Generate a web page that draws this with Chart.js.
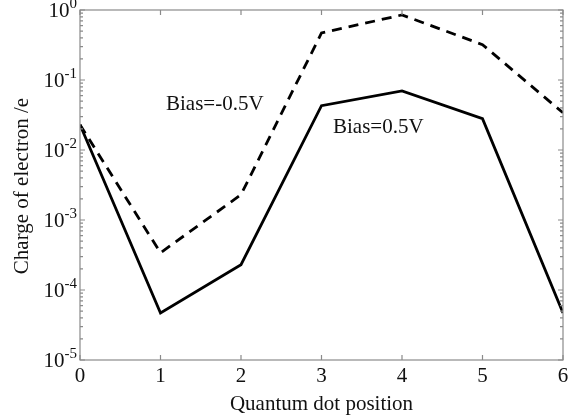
<!DOCTYPE html>
<html><head><meta charset="utf-8">
<script src="https://cdn.jsdelivr.net/npm/chart.js@4.4.1/dist/chart.umd.min.js"></script>
<style>html,body{margin:0;padding:0;background:#fff}#wrap{width:568px;height:417px}</style>
</head><body><div id="wrap"><canvas id="c" width="568" height="417"></canvas></div>
<script>
const categories = [0, 1, 2, 3, 4, 5, 6];
const biasPos = [0.023, 4.7e-5, 2.3e-4, 0.043, 0.07, 0.028, 4.7e-5];
const biasNeg = [0.023, 3.4e-4, 2.3e-3, 0.47, 0.85, 0.32, 0.034];
const yTickExponents = [0, -1, -2, -3, -4, -5];
const xTickLabels = ['0', '1', '2', '3', '4', '5', '6'];
const seriesNames = ['Bias=0.5V', 'Bias=-0.5V'];
const xTitle = 'Quantum dot position';
const yTitle = 'Charge of electron /e';

const FONT = '"Liberation Serif", "Times New Roman", serif';
const AXC = '#8a8a8a';

const deco = {
  id: 'deco',
  afterDatasetsDraw(chart) {
    const ctx = chart.ctx, a = chart.chartArea;
    const xs = chart.scales.x, ys = chart.scales.y;
    ctx.save();
    ctx.strokeStyle = AXC; ctx.lineWidth = 1.2;
    ctx.strokeRect(a.left, a.top, a.right - a.left, a.bottom - a.top);
    ctx.beginPath();
    categories.forEach(v => {
      const px = xs.getPixelForValue(v);
      ctx.moveTo(px, a.bottom); ctx.lineTo(px, a.bottom - 5);
      ctx.moveTo(px, a.top); ctx.lineTo(px, a.top + 5);
    });
    yTickExponents.forEach(e => {
      const py = ys.getPixelForValue(Math.pow(10, e));
      ctx.moveTo(a.left, py); ctx.lineTo(a.left + 5, py);
      ctx.moveTo(a.right, py); ctx.lineTo(a.right - 5, py);
      if (e < 0) {
        for (let m = 2; m <= 9; m++) {
          const pm = ys.getPixelForValue(m * Math.pow(10, e));
          ctx.moveTo(a.left, pm); ctx.lineTo(a.left + 3, pm);
          ctx.moveTo(a.right, pm); ctx.lineTo(a.right - 3, pm);
        }
      }
    });
    ctx.stroke();
    // y tick labels with superscripts
    ctx.fillStyle = '#111';
    ctx.textBaseline = 'alphabetic';
    yTickExponents.forEach(e => {
      const py = ys.getPixelForValue(Math.pow(10, e));
      ctx.font = '15px ' + FONT;
      const es = String(e);
      const ew = ctx.measureText(es).width;
      ctx.textAlign = 'right';
      ctx.fillText(es, a.left - 3, py - 2);
      ctx.font = '21px ' + FONT;
      ctx.fillText('10', a.left - 3 - ew, py + 7);
    });
    // x tick labels
    ctx.font = '21px ' + FONT; ctx.textAlign = 'center'; ctx.textBaseline = 'middle';
    categories.forEach((v, i) => {
      ctx.fillText(xTickLabels[i], xs.getPixelForValue(v), a.bottom + 16);
    });
    // titles
    ctx.font = '21px ' + FONT;
    ctx.fillText(xTitle, (a.left + a.right) / 2, 404);
    ctx.save();
    ctx.translate(22, 186); ctx.rotate(-Math.PI / 2);
    ctx.fillText(yTitle, 0, 0);
    ctx.restore();
    // annotations
    ctx.font = '21px ' + FONT; ctx.textAlign = 'left'; ctx.textBaseline = 'alphabetic';
    ctx.fillText(seriesNames[1], 166, 110);
    ctx.fillText(seriesNames[0], 333, 133);
    ctx.restore();
  }
};

new Chart(document.getElementById('c'), {
  type: 'line',
  data: {
    datasets: [
      { label: seriesNames[0], data: categories.map((x, i) => ({x, y: biasPos[i]})),
        borderColor: '#000', borderWidth: 2.8, pointRadius: 0, tension: 0, fill: false },
      { label: seriesNames[1], data: categories.map((x, i) => ({x, y: biasNeg[i]})),
        borderColor: '#000', borderWidth: 2.8, borderDash: [10, 7], pointRadius: 0, tension: 0, fill: false }
    ]
  },
  options: {
    responsive: false, animation: false,
    layout: { padding: { top: 10, right: 5, left: 0, bottom: 0 } },
    plugins: { legend: { display: false }, tooltip: { enabled: false } },
    scales: {
      x: { type: 'linear', min: 0, max: 6,
        grid: { display: false, drawTicks: false }, border: { display: false },
        ticks: { display: false },
        afterFit: s => { s.height = 57; } },
      y: { type: 'logarithmic', min: 1e-5, max: 1,
        grid: { display: false, drawTicks: false }, border: { display: false },
        ticks: { display: false },
        afterFit: s => { s.width = 80; } }
    }
  },
  plugins: [deco]
});
</script></body></html>
